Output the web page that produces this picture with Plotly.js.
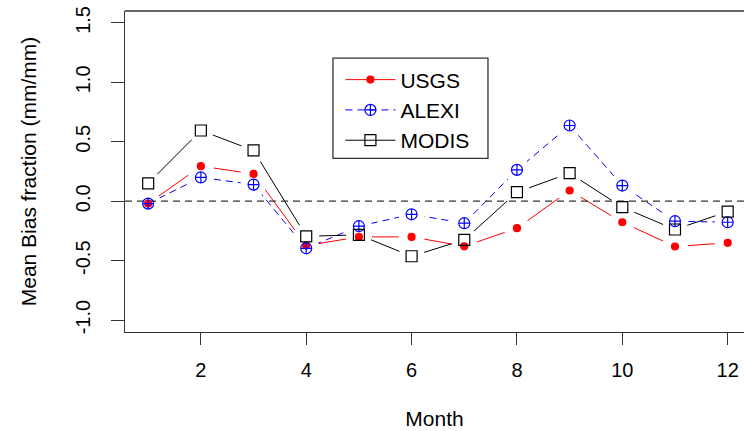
<!DOCTYPE html>
<html><head><meta charset="utf-8">
<script src="https://cdn.plot.ly/plotly-3.0.1.min.js"></script>
<style>html,body{margin:0;padding:0;background:#fff}#chart{width:744px;height:431px}</style>
</head><body><div id="chart"></div>
<script>
const months = [1,2,3,4,5,6,7,8,9,10,11,12];
const usgs  = [-0.02, 0.295, 0.23, -0.373, -0.30, -0.30, -0.379, -0.227, 0.09, -0.177, -0.381, -0.35];
const alexi = [-0.02, 0.20, 0.14, -0.396, -0.21, -0.11, -0.185, 0.264, 0.637, 0.132, -0.168, -0.177];
const modis = [0.15, 0.595, 0.427, -0.295, -0.283, -0.463, -0.325, 0.076, 0.236, -0.05, -0.238, -0.087];
const seriesNames = ['USGS','ALEXI','MODIS'];
const xTicks = [2,4,6,8,10,12];
const yTicks = [-1.0,-0.5,0.0,0.5,1.0,1.5];
const xRange = [0.56, 12.31];
const yRange = [-1.1, 1.6];

const vals = [usgs, alexi, modis];
const colors = ['#ff0000','#0000ff','#000000'];
const dashes = ['solid','7px,5px','solid'];
const syms = ['circle','circle-cross-open','square-open'];
const msizes = [7,11,11];

const traces = [];
// connecting lines, each with white markers that open gaps at the points (R type="b")
vals.forEach((v,i)=>traces.push({x:months,y:v,mode:'lines+markers',showlegend:false,
  line:{color:colors[i],width:1,dash:dashes[i]},
  marker:{symbol:'circle',size:26,color:'#ffffff',line:{width:0}}}));
// zero reference line
traces.push({x:xRange,y:[0,0],mode:'lines',showlegend:false,
  line:{color:'#333333',width:1.3,dash:'7px,5px'}});
// point symbols
vals.forEach((v,i)=>traces.push({x:months,y:v,mode:'markers',showlegend:false,name:seriesNames[i],
  marker:{symbol:syms[i],size:msizes[i],color:colors[i],line:{color:colors[i],width:1.2}}}));
// legend entries
vals.forEach((v,i)=>traces.push({x:[null],y:[null],mode:'lines+markers',name:seriesNames[i],
  line:{color:colors[i],width:1,dash:dashes[i]},
  marker:{symbol:syms[i],size:msizes[i],color:colors[i],line:{color:colors[i],width:1.2}}}));

const font = {family:'Liberation Sans, Arial, sans-serif', color:'#000', size:20};
const layout = {
  width:744, height:431,
  margin:{l:125,r:0,t:11,b:99,pad:0},
  paper_bgcolor:'#fff', plot_bgcolor:'#fff',
  font:font,
  xaxis:{range:xRange, tickvals:xTicks, ticktext:xTicks.map(String), ticks:'outside', ticklen:12,
    tickcolor:'#333', tickwidth:1, showline:true, linecolor:'#333', linewidth:1.3,
    showgrid:false, zeroline:false, ticklabelstandoff:8,
    title:{text:'Month', font:{size:21}, standoff:31}},
  yaxis:{range:yRange, tickvals:yTicks, ticktext:yTicks.map(v=>v.toFixed(1)), ticks:'outside', ticklen:13,
    tickcolor:'#333', tickwidth:1, showline:true, linecolor:'#333', linewidth:1.3,
    showgrid:false, zeroline:false, tickangle:-90, ticklabelstandoff:13,
    title:{text:'Mean Bias fraction (mm/mm)', font:{size:21}, standoff:29}},
  shapes:[
    {type:'line',xref:'paper',yref:'paper',x0:0,x1:1,y0:1,y1:1,line:{color:'#333',width:1.3}},
    {type:'rect',xref:'paper',yref:'paper',x0:0.336,x1:0.5864,y0:0.541,y1:0.853,line:{color:'#333',width:1.3},fillcolor:'rgba(0,0,0,0)'}
  ],
  legend:{x:0.348,y:0.849,xanchor:'left',yanchor:'top',bgcolor:'rgba(0,0,0,0)',borderwidth:0,
    font:{size:21}, itemwidth:50, tracegroupgap:0},
  showlegend:true
};
Plotly.newPlot('chart', traces, layout, {displayModeBar:false, staticPlot:true});
</script></body></html>
